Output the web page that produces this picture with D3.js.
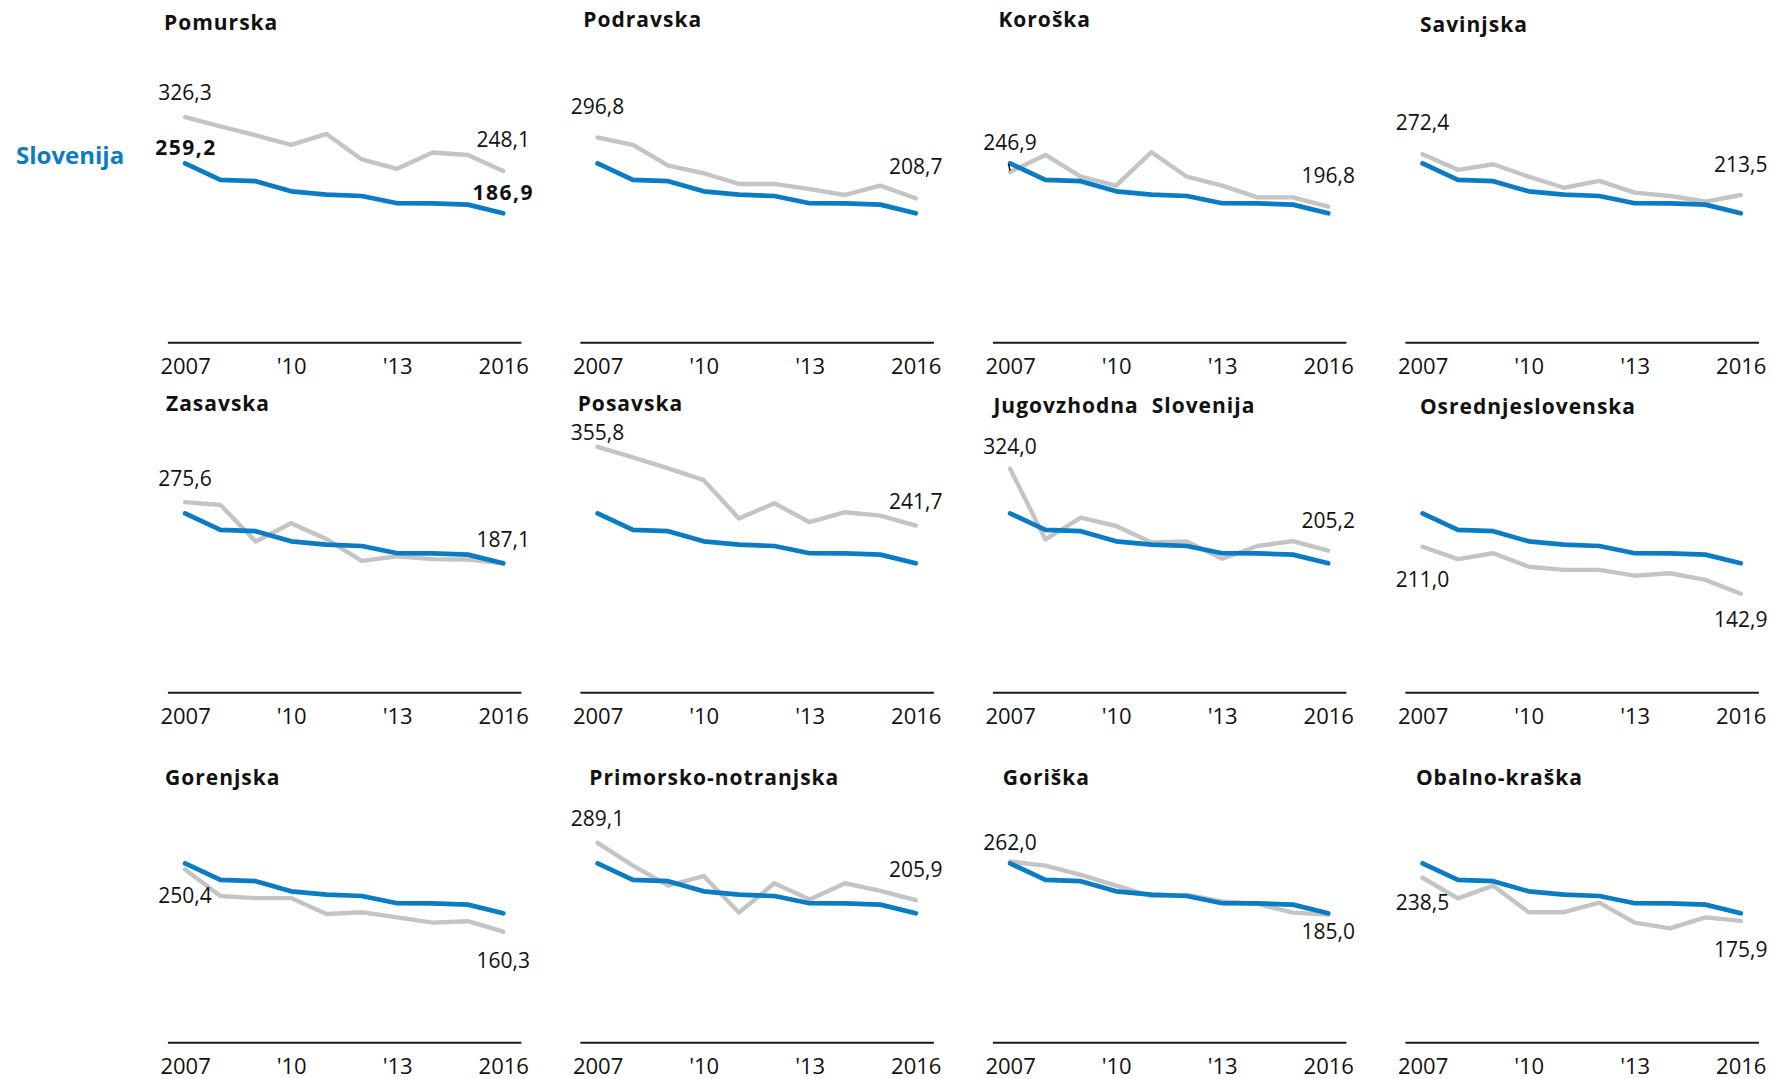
<!DOCTYPE html>
<html>
<head>
<meta charset="utf-8">
<script src="https://cdn.jsdelivr.net/npm/d3@7"></script>
<style>
  html, body { margin: 0; padding: 0; background: #fff; }
  svg { display: block; }
  text { font-family: "Open Sans", "Noto Sans", sans-serif; fill: #111; }
</style>
</head>
<body>
<svg id="chart" width="1774" height="1079"></svg>
<script>
// ---------- data ----------
const years = [2007, 2008, 2009, 2010, 2011, 2012, 2013, 2014, 2015, 2016];
const tickYears = [2007, 2010, 2013, 2016];
const tickLabels = ["2007", "'10", "'13", "2016"];
const nationalName = "Slovenija";
const slovenija = [259.2, 235.5, 233.5, 218.8, 214.0, 212.0, 201.5, 201.3, 199.5, 186.9];

const regions = [
  "Pomurska", "Podravska", "Koroška", "Savinjska",
  "Zasavska", "Posavska", "Jugovzhodna  Slovenija", "Osrednjeslovenska",
  "Gorenjska", "Primorsko-notranjska", "Goriška", "Obalno-kraška"
];
const pomurska      = [326.3, 313.0, 300.0, 286.0, 302.0, 265.0, 251.5, 275.0, 271.5, 248.1];
const podravska     = [296.8, 286.0, 256.0, 245.0, 229.5, 229.5, 222.0, 213.5, 227.0, 208.7];
const koroska       = [246.9, 271.5, 240.0, 227.0, 275.5, 240.0, 227.0, 210.0, 210.0, 196.8];
const savinjska     = [272.4, 250.0, 258.0, 240.0, 224.0, 234.0, 217.0, 212.0, 204.0, 213.5];
const zasavska      = [275.6, 271.5, 218.5, 245.0, 222.0, 190.5, 197.0, 193.0, 192.5, 187.1];
const posavska      = [355.8, 340.5, 324.5, 307.5, 252.0, 274.0, 246.5, 261.0, 256.0, 241.7];
const jugovzhodna   = [324.0, 221.5, 253.0, 241.0, 217.0, 218.5, 193.5, 212.0, 219.0, 205.2];
const osrednjeslov  = [211.0, 193.0, 201.5, 182.0, 177.5, 177.5, 169.0, 172.5, 163.0, 142.9];
const gorenjska     = [250.4, 212.0, 209.0, 209.0, 186.0, 188.5, 181.0, 173.5, 175.5, 160.3];
const primorsko     = [289.1, 256.0, 227.0, 241.0, 188.0, 230.5, 207.0, 230.5, 219.5, 205.9];
const goriska       = [262.0, 256.0, 242.5, 227.0, 212.0, 214.0, 204.0, 200.5, 188.0, 185.0];
const obalno        = [238.5, 208.5, 227.0, 188.5, 188.5, 202.5, 173.5, 165.0, 181.0, 175.9];
const regionValues = [pomurska, podravska, koroska, savinjska, zasavska, posavska,
                      jugovzhodna, osrednjeslov, gorenjska, primorsko, goriska, obalno];

// ---------- layout (positions / styles only) ----------
const colLeft0 = 167.4, colStep = 412.5, axisWidth = 353.5;
const rowAxis0 = 342.3, rowStep = 350;
const yRangePx = 276;             // pixels for the value domain [0, 400]
const blue = "#0a7cc4", grey = "#c4c4c4";
// title offsets [dx from axis left, dy from axis line]
const titlePos = [[-3.4,-312],[3.4,-315],[6,-315],[15,-310.6],
                  [-1.4,-281.6],[-2.2,-281.6],[1,-279],[15,-278],
                  [-2.4,-257],[9.4,-257],[10.3,-257],[11,-257]];
// value label baseline offsets relative to their points [start, end]
const labelDy = [[-17,-24],[-24,-24],[-22,-24],[-24,-23],
                 [-16,-16.5],[-7,-17],[-15,-23],[40,33],
                 [33,36],[-17,-23.5],[-12,24],[32,36]];
const nationalLabelDy = [-8, -13];   // only in first panel
const leaderPanels = [2];            // panels with a small leader tick at the start label

const locale = d3.formatLocale({decimal: ",", thousands: ".", grouping: [3], currency: ["", "€"]});
const fmt = locale.format(".1f");

const svg = d3.select("#chart");

regions.forEach((name, i) => {
  const col = i % 4, row = Math.floor(i / 4);
  const left = colLeft0 + col * colStep;
  const axisY = rowAxis0 + row * rowStep;

  const x = d3.scalePoint().domain(years).range([left, left + axisWidth]).padding(0.5);
  const y = d3.scaleLinear().domain([0, 400]).range([axisY, axisY - yRangePx]);

  const g = svg.append("g");

  // axis
  const axis = d3.axisBottom(x)
    .tickValues(tickYears)
    .tickFormat(d => tickLabels[tickYears.indexOf(d)])
    .tickSizeInner(0).tickSizeOuter(0).tickPadding(16.5);
  const ax = g.append("g").attr("transform", `translate(0,${axisY})`).call(axis);
  ax.select(".domain").attr("stroke", "#1a1a1a").attr("stroke-width", 2);
  ax.selectAll("text").attr("font-size", 22).attr("fill", "#111")
    .style("font-family", '"Open Sans", sans-serif');

  // title
  g.append("text")
    .attr("x", left + titlePos[i][0]).attr("y", axisY + titlePos[i][1])
    .attr("font-size", 21).attr("font-weight", 700)
    .attr("letter-spacing", 1)
    .style("white-space", "pre")
    .text(name);

  const line = d3.line().x((d, k) => x(years[k])).y(d => y(d));
  const vals = regionValues[i];

  g.append("path").datum(vals).attr("d", line)
    .attr("fill", "none").attr("stroke", grey).attr("stroke-width", 4.4)
    .attr("stroke-linejoin", "round").attr("stroke-linecap", "round");
  g.append("path").datum(slovenija).attr("d", line)
    .attr("fill", "none").attr("stroke", blue).attr("stroke-width", 4.7)
    .attr("stroke-linejoin", "round").attr("stroke-linecap", "round");

  // region value labels
  const first = vals[0], last = vals[vals.length - 1];
  g.append("text").attr("x", x(years[0])).attr("y", y(first) + labelDy[i][0])
    .attr("text-anchor", "middle").attr("font-size", 21).text(fmt(first));
  g.append("text").attr("x", x(years[years.length - 1])).attr("y", y(last) + labelDy[i][1])
    .attr("text-anchor", "middle").attr("font-size", 21).text(fmt(last));

  if (leaderPanels.includes(i)) {
    g.append("line")
      .attr("x1", x(years[0])).attr("y1", y(first) - 1)
      .attr("x2", x(years[0]) - 1.5).attr("y2", y(first) + labelDy[i][0] + 14)
      .attr("stroke", "#111").attr("stroke-width", 1.5);
  }

  if (i === 0) {
    const s0 = slovenija[0], s1 = slovenija[slovenija.length - 1];
    g.append("text").attr("x", x(years[0]) + 1).attr("y", y(s0) + nationalLabelDy[0])
      .attr("text-anchor", "middle").attr("font-size", 21).attr("font-weight", 700)
      .attr("letter-spacing", 1.5).text(fmt(s0));
    g.append("text").attr("x", x(years[years.length - 1])).attr("y", y(s1) + nationalLabelDy[1])
      .attr("text-anchor", "middle").attr("font-size", 21).attr("font-weight", 700)
      .attr("letter-spacing", 1.5).text(fmt(s1));
    svg.append("text").attr("x", 16).attr("y", y(s0) + 1)
      .attr("font-size", 24).attr("font-weight", 700).style("fill", blue)
      .text(nationalName);
  }
});
</script>
</body>
</html>
